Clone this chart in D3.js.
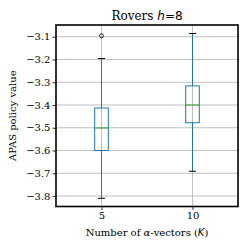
<!DOCTYPE html>
<html><head><meta charset="utf-8">
<script src="https://cdn.jsdelivr.net/npm/d3@7"></script>
<style>body{margin:0;background:#fff}</style>
</head><body>
<svg id="c" width="249" height="249"></svg>
<script>
const categories = ["5", "10"];
const boxQ1 = [-3.60, -3.478];
const boxQ3 = [-3.413, -3.316];
const medians = [-3.501, -3.40];
const whiskerLow = [-3.81, -3.691];
const whiskerHigh = [-3.196, -3.086];
const outliers = [[-3.096], []];
const yTicks = [-3.1, -3.2, -3.3, -3.4, -3.5, -3.6, -3.7, -3.8];

const SERIF = "'DejaVu Serif', serif", SANS = "'DejaVu Sans', sans-serif";
const svg = d3.select("#c");
const L = 56, R = 238, T = 25, B = 206.5;
const x = d3.scalePoint().domain(categories).range([L, R]).padding(0.5);
const y = d3.scaleLinear().domain([-3.846, -3.0485]).range([B, T]);
const fmt = d => "\u2212" + Math.abs(d).toFixed(1);

// grid
svg.append("g").selectAll("line").data(yTicks).join("line")
  .attr("x1", L).attr("x2", R).attr("y1", d => y(d)).attr("y2", d => y(d))
  .attr("stroke", "#b0b0b0").attr("stroke-width", 0.8);
svg.append("g").selectAll("line").data(categories).join("line")
  .attr("x1", d => x(d)).attr("x2", d => x(d)).attr("y1", T).attr("y2", B)
  .attr("stroke", "#b0b0b0").attr("stroke-width", 0.8);

// axes
const ya = svg.append("g").attr("transform", `translate(${L},0)`)
  .call(d3.axisLeft(y).tickValues(yTicks).tickFormat(fmt).tickSize(3.5).tickPadding(2));
const xa = svg.append("g").attr("transform", `translate(0,${B})`)
  .call(d3.axisBottom(x).tickSize(3.5).tickPadding(2));
[ya, xa].forEach(a => {
  a.select(".domain").remove();
  a.selectAll("text").style("font-family", SERIF).style("font-size", "10px").attr("fill", "#000");
  a.selectAll("line").attr("stroke", "#000").attr("stroke-width", 0.8);
});

const bw = 13.6, cw = 7;
const g = svg.append("g");
categories.forEach((c, i) => {
  const cx = x(c);
  g.append("line").attr("x1", cx).attr("x2", cx).attr("y1", y(boxQ3[i])).attr("y2", y(whiskerHigh[i]))
    .attr("stroke", "#1f77b4").attr("stroke-width", 1);
  g.append("line").attr("x1", cx).attr("x2", cx).attr("y1", y(boxQ1[i])).attr("y2", y(whiskerLow[i]))
    .attr("stroke", "#1f77b4").attr("stroke-width", 1);
  [whiskerHigh[i], whiskerLow[i]].forEach(v => g.append("line")
    .attr("x1", cx - cw / 2).attr("x2", cx + cw / 2).attr("y1", y(v)).attr("y2", y(v))
    .attr("stroke", "#000").attr("stroke-width", 1));
  g.append("rect").attr("x", cx - bw / 2).attr("width", bw)
    .attr("y", y(boxQ3[i])).attr("height", y(boxQ1[i]) - y(boxQ3[i]))
    .attr("fill", "none").attr("stroke", "#1f77b4").attr("stroke-width", 1);
  g.append("line").attr("x1", cx - bw / 2).attr("x2", cx + bw / 2).attr("y1", y(medians[i])).attr("y2", y(medians[i]))
    .attr("stroke", "#2ca02c").attr("stroke-width", 1);
  outliers[i].forEach(v => g.append("circle").attr("cx", cx).attr("cy", y(v)).attr("r", 2)
    .attr("fill", "none").attr("stroke", "#000").attr("stroke-width", 0.8));
});

// frame
svg.append("rect").attr("x", L).attr("y", T).attr("width", R - L).attr("height", B - T)
  .attr("fill", "none").attr("stroke", "#000").attr("stroke-width", 1.6);

// title
const t = svg.append("text").attr("x", (L + R) / 2).attr("y", 20).attr("text-anchor", "middle")
  .style("font-family", SERIF).style("font-size", "12px");
t.append("tspan").text("Rovers ");
t.append("tspan").style("font-family", SANS).style("font-style", "oblique").text("h");
t.append("tspan").style("font-family", SANS).text("=8");

const xl = svg.append("text").attr("x", (L + R) / 2).attr("y", 236).attr("text-anchor", "middle")
  .style("font-family", SERIF).style("font-size", "10px");
xl.append("tspan").text("Number of ");
xl.append("tspan").style("font-style", "italic").text("\u03b1");
xl.append("tspan").text("-vectors (");
xl.append("tspan").style("font-family", SANS).style("font-style", "oblique").text("K");
xl.append("tspan").text(")");

svg.append("text").attr("transform", `translate(16,${(T + B) / 2}) rotate(-90)`)
  .attr("text-anchor", "middle").style("font-family", SERIF).style("font-size", "10px").text("APAS policy value");
</script>
</body></html>
